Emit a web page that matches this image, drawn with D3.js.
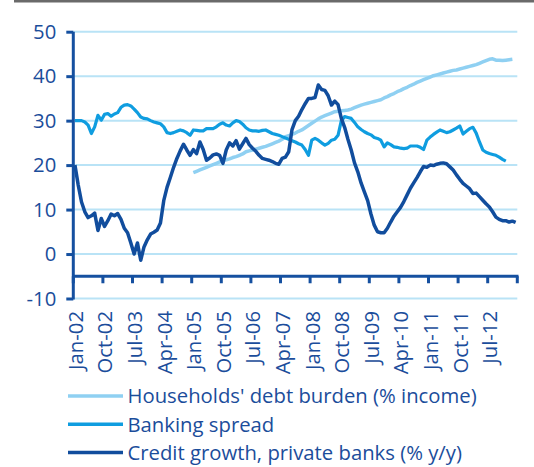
<!DOCTYPE html>
<html><head><meta charset="utf-8">
<script src="https://cdn.jsdelivr.net/npm/d3@7"></script>
<style>body{margin:0;background:#fff}svg{display:block}text{font-family:"Open Sans",sans-serif}</style>
</head><body><svg id="c" width="534" height="467"></svg>
<script>
// Monthly categories: Jan-02 ... Mar-13 (135 months)
const startYear = 2002, monthCount = 135;
const tickLabels = ["Jan-02","Oct-02","Jul-03","Apr-04","Jan-05","Oct-05","Jul-06","Apr-07","Jan-08","Oct-08","Jul-09","Apr-10","Jan-11","Oct-11","Jul-12"];
const yTicks = [-10, 0, 10, 20, 30, 40, 50];
const seriesNames = ["Households' debt burden (% income)", "Banking spread", "Credit growth, private banks (% y/y)"];

// Credit growth, private banks (% y/y), from Jan-02
const creditGrowth = [20.0,15.5,11.7,9.5,8.2,8.6,9.2,5.3,8.0,6.2,7.5,9.0,8.6,9.1,7.8,5.8,4.8,2.5,0.0,2.5,
-1.4,1.6,3.2,4.5,4.9,5.4,7.0,12.0,15.0,17.2,19.5,21.5,23.2,24.7,23.4,22.2,23.5,22.6,25.2,23.5,
21.1,21.6,22.3,22.5,22.2,20.4,23.4,25.0,24.3,25.5,23.6,24.8,26.0,24.6,23.8,23.1,22.2,21.5,21.3,21.1,
20.8,20.4,20.2,21.5,21.8,23.0,28.0,30.0,31.0,32.5,33.8,35.0,35.0,35.2,38.0,37.0,36.8,35.6,33.5,34.4,
33.6,30.5,28.5,25.8,23.4,20.5,18.5,16.0,14.0,12.0,9.0,6.5,5.0,4.8,4.8,5.8,7.2,8.5,9.5,10.5,
11.8,13.3,14.8,16.0,17.2,18.5,19.7,19.5,20.0,19.9,20.2,20.4,20.5,20.3,19.6,18.9,17.8,16.8,15.9,15.3,
14.7,13.6,13.7,12.9,12.1,11.3,10.6,9.5,8.3,7.8,7.5,7.5,7.2,7.4,7.1];

// Banking spread, from Jan-02
const bankingSpread = [30.0,30.0,30.0,29.7,29.0,27.1,28.6,31.2,30.1,31.4,31.6,31.0,31.5,31.8,33.0,33.5,33.6,33.3,32.6,31.8,
30.8,30.5,30.4,30.0,29.7,29.5,29.3,28.6,27.3,27.1,27.3,27.6,27.9,27.7,27.3,26.7,27.9,27.8,27.7,27.7,
28.2,28.2,28.2,28.6,29.2,29.5,29.0,28.8,29.5,30.0,29.8,29.2,28.4,27.9,27.7,27.7,27.6,27.8,27.9,27.5,
27.1,26.9,26.7,26.4,26.1,25.8,25.5,25.2,24.8,24.5,23.5,22.2,25.6,26.0,25.6,25.0,24.5,24.9,25.6,25.8,
26.7,30.0,30.9,30.7,30.5,29.6,28.6,28.0,27.5,27.1,26.8,26.2,26.0,25.6,24.1,25.0,24.6,24.1,24.0,23.8,
23.7,23.8,24.3,24.3,24.3,24.0,23.5,25.6,26.3,26.9,27.4,27.9,27.6,27.3,27.5,27.9,28.3,28.8,27.0,27.6,
28.2,28.5,27.2,25.2,23.4,22.9,22.6,22.4,22.2,21.8,21.3,20.9];

// Households' debt burden (% income), from Jan-05 (month index 36)
const householdStart = 36;
const householdDebt = [18.3,18.6,18.9,19.2,19.5,19.8,20.1,20.4,20.7,21.0,21.2,21.4,21.7,21.9,22.2,22.5,23.0,23.2,23.4,23.6,
23.8,24.0,24.2,24.5,24.8,25.1,25.4,25.8,26.4,26.6,26.9,27.2,27.6,27.9,28.4,28.9,29.4,29.9,30.4,30.8,
31.1,31.4,31.7,32.0,32.1,32.2,32.3,32.4,32.6,32.9,33.2,33.5,33.7,33.9,34.1,34.3,34.5,34.7,35.1,35.4,
35.8,36.1,36.5,36.8,37.2,37.5,37.9,38.2,38.6,38.9,39.2,39.5,39.8,40.1,40.3,40.5,40.7,40.9,41.1,41.3,
41.4,41.6,41.8,42.0,42.2,42.4,42.6,42.9,43.2,43.5,43.8,43.9,43.6,43.6,43.5,43.6,43.7,43.8];

const colors = {household:"#8fd0f2", spread:"#0f9de0", credit:"#114d9d"};
const axisColor = "#1550a0", textColor = "#1b4d9b", gridColor = "#b9e3f6";
const fontSize = 20.3;

const svg = d3.select("#c");
const months = d3.range(monthCount);
const x = d3.scaleBand().domain(months).range([73.3, 517.3]).padding(0);
const xc = i => x(i) + x.bandwidth() / 2;
const y = d3.scaleLinear().domain([-10, 50]).range([298.5, 31.7]);

// top grey rule
svg.append("rect").attr("x", 14).attr("y", 0).attr("width", 520).attr("height", 2.5).attr("fill", "#6a6a6a");

// gridlines
svg.append("g").selectAll("line").data(yTicks).join("line")
  .attr("x1", 73.3).attr("x2", 517.3).attr("y1", d => y(d)).attr("y2", d => y(d))
  .attr("stroke", gridColor).attr("stroke-width", 2);

// y axis
const yAxis = d3.axisLeft(y).tickValues(yTicks).tickSize(7).tickSizeOuter(0).tickPadding(10).tickFormat(d => String(d));
const gy = svg.append("g").attr("transform", "translate(73.3,0)").call(yAxis);
gy.select(".domain").attr("stroke", axisColor).attr("stroke-width", 3).attr("d", `M0,${y(-10)+1}V${y(50)}`);
gy.selectAll(".tick line").attr("stroke", axisColor).attr("stroke-width", 3);
gy.selectAll(".tick text").attr("fill", textColor).attr("font-size", fontSize).attr("font-family", "Open Sans");

// x axis (crosses at -5)
const tickIdx = d3.range(0, monthCount + 1, 9);
const gx = svg.append("g");
gx.append("line").attr("x1", 73.3).attr("x2", 518.5).attr("y1", y(-5)).attr("y2", y(-5))
  .attr("stroke", axisColor).attr("stroke-width", 3);
gx.selectAll(".xt").data(tickIdx).join("line").attr("class", "xt")
  .attr("x1", d => d < monthCount ? x(d) : x(monthCount - 1) + x.bandwidth())
  .attr("x2", d => d < monthCount ? x(d) : x(monthCount - 1) + x.bandwidth())
  .attr("y1", y(-5)).attr("y2", y(-5) + 7).attr("stroke", axisColor).attr("stroke-width", 3);
gx.selectAll(".xl").data(tickLabels).join("text").attr("class", "xl")
  .attr("transform", (d, k) => `translate(${xc(k * 9) + 0.5},311) rotate(-90)`)
  .attr("text-anchor", "end").attr("dy", "0.36em")
  .attr("fill", textColor).attr("font-size", fontSize).text(d => d);

// lines
const line = d3.line().x(d => xc(d.i)).y(d => y(d.v)).curve(d3.curveLinear);
const hh = householdDebt.map((v, k) => ({i: householdStart + k, v}));
const sp = bankingSpread.map((v, i) => ({i, v}));
const cg = creditGrowth.map((v, i) => ({i, v}));
svg.append("path").datum(hh).attr("d", line).attr("fill", "none").attr("stroke", colors.household).attr("stroke-width", 3.5).attr("stroke-linejoin", "round");
svg.append("path").datum(sp).attr("d", line).attr("fill", "none").attr("stroke", colors.spread).attr("stroke-width", 3.2).attr("stroke-linejoin", "round");
svg.append("path").datum(cg).attr("d", line).attr("fill", "none").attr("stroke", colors.credit).attr("stroke-width", 3.5).attr("stroke-linejoin", "round");

// legend
const legColors = [colors.household, colors.spread, colors.credit];
const leg = svg.append("g").selectAll("g").data(seriesNames).join("g")
  .attr("transform", (d, k) => `translate(0,${396 + k * 28.2})`);
leg.append("line").attr("x1", 68).attr("x2", 123).attr("y1", 0).attr("y2", 0)
  .attr("stroke", (d, k) => legColors[k]).attr("stroke-width", 3.5);
leg.append("text").attr("x", 127.5).attr("y", 0).attr("dy", "0.36em")
  .attr("fill", textColor).attr("font-size", fontSize).text(d => d);
</script></body></html>
